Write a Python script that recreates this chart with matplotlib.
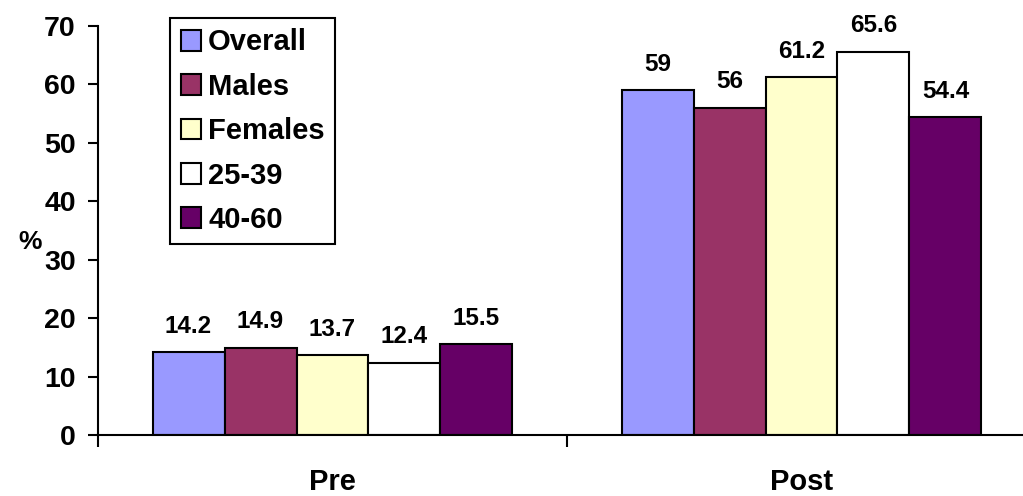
import matplotlib.pyplot as plt
import numpy as np

plt.rcParams['font.family'] = ['Liberation Sans', 'DejaVu Sans']
plt.rcParams['font.weight'] = 'bold'

groups = ['Pre', 'Post']
series = ['Overall', 'Males', 'Females', '25-39', '40-60']
values = [
    [14.2, 59],
    [14.9, 56],
    [13.7, 61.2],
    [12.4, 65.6],
    [15.5, 54.4],
]
colors = ['#9999FF', '#993366', '#FFFFCC', '#FFFFFF', '#660066']

fig = plt.figure(figsize=(10.23, 4.96), dpi=100)
ax = fig.add_axes([98 / 1023, 61 / 496, 938 / 1023, 409 / 496])

w = 0.1535
centers = np.arange(len(groups)) + 0.5
for i, (name, vals, c) in enumerate(zip(series, values, colors)):
    xs = centers + (i - 2) * w
    ax.bar(xs, vals, width=w, color=c, edgecolor='black', linewidth=1.5,
           label=name)
    for x, v in zip(xs, vals):
        ax.annotate(f'{v:g}', (x, v), xytext=(0, 14), textcoords='offset points',
                    ha='center', va='baseline', fontsize=17.5, fontweight='bold')

ax.set_xlim(0, 2)
ax.set_ylim(0, 70)
ax.set_yticks(range(0, 71, 10))
ax.tick_params(axis='y', labelsize=20.5, width=1.5, length=7, pad=9)
ax.set_xticks([0, 1])
ax.set_xticklabels([])
ax.tick_params(axis='x', width=1.5, length=8.5, direction='out')
for x, g in zip(centers, groups):
    ax.text(x, 14 / 496, g, transform=ax.get_xaxis_transform().__class__(ax.transData, fig.transFigure),
            ha='center', va='center', fontsize=21, fontweight='bold')

ax.spines['top'].set_visible(False)
ax.spines['right'].set_visible(False)
ax.spines['left'].set_linewidth(1.5)
ax.spines['bottom'].set_linewidth(1.5)
fig.text(30 / 1023, (496 - 242) / 496, '%', ha='center', va='center',
         fontsize=19, fontweight='bold')

leg = ax.legend(loc='upper left', bbox_to_anchor=(170 / 1023, (496 - 18) / 496),
                bbox_transform=fig.transFigure,
                fontsize=21, frameon=True, fancybox=False, edgecolor='black',
                framealpha=1, handlelength=0.7, handleheight=0.7,
                handletextpad=0.25, labelspacing=0.56, borderpad=0.36,
                borderaxespad=0)
leg.get_frame().set_linewidth(1.5)
for h in leg.legend_handles:
    h.set_linewidth(1.5)

fig.savefig('out.png', dpi=100)
